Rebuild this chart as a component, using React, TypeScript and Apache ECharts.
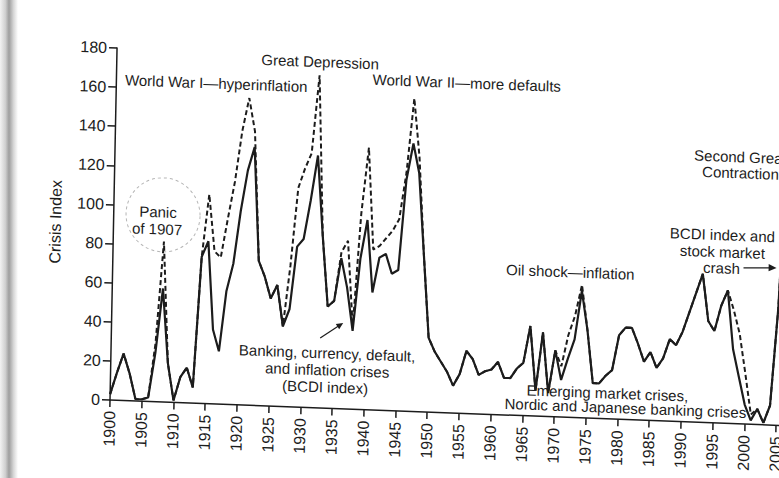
import React, { useEffect, useRef } from "react";
import * as echarts from "echarts";

const START_YEAR = 1900;

// BCDI index (banking, currency, default and inflation crises), 1900-2008
const bcdi: number[] = [
  3, 14, 24, 14, 1, 1, 2, 25, 58, 20, // 1900-1909
  1, 13, 18, 8, 75, 83, 38, 27, 58, 72, // 1910-1919
  99, 120, 132, 74, 66, 55, 62, 41, 50, 82, // 1920-1929
  86, 106, 129, 88, 52, 55, 77, 62, 40, 77, // 1930-1939
  97, 60, 78, 80, 70, 72, 118, 137, 122, 80, // 1940-1949
  38, 31, 26, 21, 14, 20, 32, 28, 20, 22, // 1950-1959
  23, 27, 19, 19, 24, 27, 46, 13, 43, 12, // 1960-1969
  34, 19, 30, 40, 65, 45, 18, 18, 22, 25, // 1970-1979
  43, 47, 47, 39, 30, 35, 27, 32, 42, 39, // 1980-1989
  46, 56, 66, 76, 52, 47, 60, 68, 38, 24, // 1990-1999
  10, 2, 8, 1, 10, 60, 150, 165, 175, // 2000-2008
];

// BCDI index plus stock market crashes, 1900-2008
const bcdiStock: number[] = [
  3, 14, 24, 14, 1, 1, 2, 30, 82, 20, // 1900-1909
  1, 13, 18, 8, 75, 107, 78, 75, 95, 114, // 1910-1919
  140, 157, 140, 74, 66, 55, 62, 41, 72, 112, // 1920-1929
  122, 130, 170, 88, 52, 55, 80, 86, 42, 100, // 1930-1939
  134, 82, 84, 88, 92, 98, 122, 160, 130, 80, // 1940-1949
  38, 31, 26, 21, 14, 20, 32, 28, 20, 22, // 1950-1959
  23, 27, 19, 19, 24, 27, 46, 13, 43, 12, // 1960-1969
  34, 26, 42, 52, 68, 45, 18, 18, 22, 25, // 1970-1979
  43, 47, 47, 39, 30, 35, 27, 32, 42, 39, // 1980-1989
  46, 56, 66, 76, 52, 47, 60, 68, 58, 46, // 1990-1999
  26, 5, 8, 1, 10, 60, 150, 165, 175, // 2000-2008
];

const yTicks = { min: 0, max: 180, step: 20 };
const xTicks = { min: 1900, max: 2010, step: 5 };

const FONT = "'Liberation Sans', Arial, Helvetica, sans-serif";
const INK = "#1c1c1c";

const toPairs = (vals: number[]) => vals.map((v, i) => [START_YEAR + i, v]);

const txt = (text: string, x: number, y: number, align = "center", size = 15) => ({
  type: "text",
  x,
  y,
  style: {
    text,
    fill: INK,
    font: `${size}px ${FONT}`,
    align,
    verticalAlign: "middle",
  },
  silent: true,
});

export default function App() {
  const ref = useRef<HTMLDivElement>(null);

  useEffect(() => {
    if (!ref.current) return;
    const chart = echarts.init(ref.current, undefined, { renderer: "svg" });
    const option: any = {
      animation: false,
      backgroundColor: "transparent",
      grid: { left: 110, top: 48, width: 697.7, height: 352 },
      xAxis: {
        type: "value",
        min: xTicks.min,
        max: xTicks.max,
        interval: xTicks.step,
        axisLine: { show: true, onZero: false, lineStyle: { color: INK, width: 1.5 } },
        axisTick: { show: true, length: 7, lineStyle: { color: INK, width: 1.5 } },
        axisLabel: {
          rotate: 90,
          margin: 11,
          fontSize: 16,
          color: INK,
          fontFamily: FONT,
          formatter: (v: number) => String(v),
        },
        splitLine: { show: false },
      },
      yAxis: {
        type: "value",
        min: yTicks.min,
        max: yTicks.max,
        interval: yTicks.step,
        name: "Crisis Index",
        nameLocation: "middle",
        nameGap: 50,
        nameRotate: 90,
        nameTextStyle: { fontSize: 16, color: INK, fontFamily: FONT },
        axisLine: { show: true, lineStyle: { color: INK, width: 1.5 } },
        axisTick: { show: true, length: 8, lineStyle: { color: INK, width: 1.5 } },
        axisLabel: { margin: 10, fontSize: 16, color: INK, fontFamily: FONT },
        splitLine: { show: false },
      },
      series: [
        {
          name: "BCDI index plus stock market crashes",
          type: "line",
          data: toPairs(bcdiStock),
          symbol: "none",
          lineStyle: { color: INK, width: 2, type: [5, 3] },
          z: 2,
        },
        {
          name: "BCDI index",
          type: "line",
          data: toPairs(bcdi),
          symbol: "none",
          lineStyle: { color: INK, width: 2.2 },
          z: 3,
        },
      ],
      graphic: [
        {
          type: "circle",
          shape: { cx: 159.3, cy: 213, r: 37 },
          style: { fill: "none", stroke: "#b5b5b5", lineWidth: 1, lineDash: [3, 3] },
          silent: true,
        },
        txt("Panic", 154.2, 210.2),
        txt("of 1907", 153.6, 227.2),
        txt("World War I\u2014hyperinflation", 118.6, 79.4, "left"),
        txt("Great Depression", 313.2, 54),
        txt("World War II\u2014more defaults", 460.2, 69.5),
        txt("Banking, currency, default,", 326, 344.8),
        txt("and inflation crises", 326.4, 361.8),
        txt("(BCDI index)", 324.7, 378.8),
        {
          type: "line",
          shape: { x1: 318.8, y1: 330, x2: 337.2, y2: 317.2 },
          style: { stroke: INK, lineWidth: 1.2 },
          silent: true,
        },
        {
          type: "polygon",
          shape: { points: [[341.5, 314.1], [337.6, 320.6], [334.1, 315.6]] },
          style: { fill: INK },
          silent: true,
        },
        txt("Oil shock\u2014inflation", 567.4, 254.5),
        txt("BCDI index and", 718.7, 211.7),
        txt("stock market", 719, 228.7),
        txt("crash", 718.4, 244.8),
        {
          type: "line",
          shape: { x1: 740.4, y1: 243.9, x2: 767, y2: 243 },
          style: { stroke: INK, lineWidth: 1.2 },
          silent: true,
        },
        {
          type: "polygon",
          shape: { points: [[773.4, 242.7], [765.5, 239.2], [765.5, 246.4]] },
          style: { fill: INK },
          silent: true,
        },
        txt("Second Great", 735.1, 133.1),
        txt("Contraction", 735.5, 149.1),
        txt("Emerging market crises,", 606.9, 374.1),
        txt("Nordic and Japanese banking crises", 625.2, 388.4),
      ],
    };
    chart.setOption(option);
    return () => chart.dispose();
  }, []);

  return (
    <div
      style={{
        position: "fixed",
        left: 0,
        top: 0,
        width: 779,
        height: 478,
        overflow: "hidden",
        background: "#ffffff",
      }}
    >
      <div
        style={{
          position: "absolute",
          left: 0,
          top: 0,
          width: 18,
          height: 478,
          background:
            "linear-gradient(to right, #f2f2f2 0%, #cfcfcf 30%, #9d9d9d 50%, #d6d6d6 75%, #ffffff 100%)",
        }}
      />
      <div
        ref={ref}
        style={{
          position: "absolute",
          left: 0,
          top: 0,
          width: 830,
          height: 500,
          transform: "matrix(1, 0.038, -0.02, 1, 0, 0)",
          transformOrigin: "110px 400px",
        }}
      />
    </div>
  );
}
